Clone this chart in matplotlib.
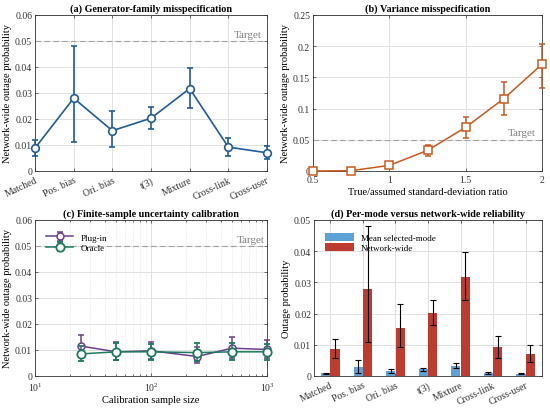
import matplotlib
matplotlib.use("Agg")
from matplotlib import pyplot as plt
from matplotlib.ticker import FuncFormatter, LogLocator, NullFormatter
import numpy as np

plt.rcParams['font.family'] = ['Liberation Serif', 'DejaVu Serif']
plt.rcParams['font.size'] = 7
plt.rcParams['mathtext.fontset'] = 'stix'

# --- data ---
cases = ['Matched', 'Pos. bias', 'Ori. bias', 't(3)', 'Mixture', 'Cross-link', 'Cross-user']
net_mean = [0.0088, 0.0280, 0.0155, 0.0203, 0.0317, 0.0092, 0.0070]
net_lo = [0.0058, 0.0110, 0.0093, 0.0163, 0.0243, 0.0058, 0.0045]
net_hi = [0.0118, 0.0482, 0.0231, 0.0245, 0.0397, 0.0128, 0.0098]

sd_ratio = [0.5, 0.75, 1.0, 1.25, 1.5, 1.75, 2.0]
var_mean = [0.0, 0.0005, 0.009, 0.033, 0.070, 0.116, 0.171]
var_lo = [0.0, 0.0003, 0.007, 0.024, 0.053, 0.090, 0.133]
var_hi = [0.0, 0.0008, 0.011, 0.042, 0.087, 0.142, 0.204]

n_cal = [25, 50, 100, 250, 500, 1000]
plug_mean = [0.0115, 0.0093, 0.0097, 0.0075, 0.0107, 0.0102]
plug_lo = [0.0075, 0.0060, 0.0065, 0.0050, 0.0070, 0.0070]
plug_hi = [0.0157, 0.0130, 0.0132, 0.0110, 0.0150, 0.0140]
orc_mean = [0.0085, 0.0093, 0.0093, 0.0090, 0.0093, 0.0093]
orc_lo = [0.0058, 0.0060, 0.0063, 0.0058, 0.0063, 0.0060]
orc_hi = [0.0115, 0.0128, 0.0125, 0.0127, 0.0127, 0.0125]

mode_mean = [0.0009, 0.0028, 0.0016, 0.0021, 0.0033, 0.0010, 0.0007]
mode_lo = [0.0007, 0.0010, 0.0010, 0.0016, 0.0026, 0.0007, 0.0005]
mode_hi = [0.0011, 0.0050, 0.0024, 0.0026, 0.0042, 0.0013, 0.0009]

target = 0.05

BLUE = '#1f5c99'
ORANGE = '#c85a1e'
PURPLE = '#6b3d8f'
GREEN = '#1d7a5c'
LBLUE = '#5ba3d6'
RED = '#bf3b30'
EDGE = '#333333'


def yerr(m, lo, hi):
    m = np.asarray(m); lo = np.asarray(lo); hi = np.asarray(hi)
    return np.vstack([m - lo, hi - m])


def no_clip(eb):
    # markers on the axes edge are drawn whole, like the reference
    line, caps, bars = eb.lines
    if line is not None:
        line.set_clip_on(False)
    for c in caps:
        c.set_clip_on(False)
    for b in bars:
        b.set_clip_on(False)


def style(ax, title):
    ax.set_title(title, fontsize=7.3, fontweight='bold', pad=3)
    ax.grid(True, color='#dcdcdc', lw=0.6)
    ax.set_axisbelow(True)
    ax.tick_params(direction='in', length=2.5, width=0.5, colors=EDGE,
                   top=True, right=True, labelsize=7, pad=2)
    ax.tick_params(axis='x', pad=3)
    for s in ax.spines.values():
        s.set_color(EDGE)
        s.set_linewidth(0.6)
    ax.yaxis.set_major_formatter(FuncFormatter(lambda v, p: '%g' % round(v, 4)))


def add_target(ax, xtext, dy):
    ax.axhline(target, color='#a0a0a0', ls=(0, (5, 3)), lw=0.8, zorder=1)
    ax.text(xtext, target + dy, 'Target', color='#808080', fontsize=8,
            ha='right', va='bottom')


fig = plt.figure(figsize=(5.5, 4.1), dpi=100)
W, H = 550.0, 410.0


def box(l, t, r, b):
    return [l / W, 1 - b / H, (r - l) / W, (b - t) / H]


# (a)
ax = fig.add_axes(box(35, 16, 267, 172))
x = np.arange(1, len(cases) + 1)
eb = ax.errorbar(x, net_mean, yerr=yerr(net_mean, net_lo, net_hi), color=BLUE, lw=1.2,
                 marker='o', ms=5.5, mfc='white', mec=BLUE, mew=1.2, capsize=2.5,
                 elinewidth=1.2, capthick=1.2, zorder=3)
no_clip(eb)
ax.set_xlim(1, 7)
ax.set_ylim(0, 0.06)
ax.set_xticks(x)
ax.set_xticklabels(cases, rotation=25, ha='right', rotation_mode='anchor')
ax.set_ylabel('Network-wide outage probability', fontsize=7.5, labelpad=2)
style(ax, '(a) Generator-family misspecification')
add_target(ax, 6.85, 0.0008)

# (b)
ax = fig.add_axes(box(313, 16, 542, 172))
eb = ax.errorbar(sd_ratio, var_mean, yerr=yerr(var_mean, var_lo, var_hi), color=ORANGE,
                 lw=1.1, marker='s', ms=5.5, mfc='white', mec=ORANGE, mew=1.1, capsize=2.5,
                 elinewidth=1.1, capthick=1.1, zorder=3)
no_clip(eb)
ax.set_xlim(0.5, 2)
ax.set_ylim(0, 0.25)
ax.set_xticks([0.5, 1, 1.5, 2])
ax.xaxis.set_major_formatter(FuncFormatter(lambda v, p: '%g' % v))
ax.set_xlabel('True/assumed standard-deviation ratio', fontsize=7.5, labelpad=2)
ax.set_ylabel('Network-wide outage probability', fontsize=7.5, labelpad=2)
style(ax, '(b) Variance misspecification')
add_target(ax, 1.96, 0.004)

# (c)
ax = fig.add_axes(box(35, 221, 267, 377))
ax.set_xscale('log')
eb = ax.errorbar(n_cal, plug_mean, yerr=yerr(plug_mean, plug_lo, plug_hi), color=PURPLE,
                 lw=1.1, marker='o', ms=5, mfc='white', mec=PURPLE, mew=1.1, capsize=2.5,
                 elinewidth=1.1, capthick=1.1, zorder=3, label='Plug-in')
no_clip(eb)
eb = ax.errorbar(n_cal, orc_mean, yerr=yerr(orc_mean, orc_lo, orc_hi), color=GREEN,
                 lw=1.1, marker='o', ms=6, mfc='white', mec=GREEN, mew=1.3, capsize=2.5,
                 elinewidth=1.1, capthick=1.1, zorder=4, label='Oracle')
no_clip(eb)
ax.set_xlim(10, 1000)
ax.set_ylim(0, 0.06)
ax.xaxis.set_major_locator(LogLocator(base=10))
ax.xaxis.set_minor_locator(LogLocator(base=10, subs=np.arange(2, 10)))
ax.xaxis.set_minor_formatter(NullFormatter())
ax.set_xlabel('Calibration sample size', fontsize=7.5, labelpad=2)
ax.set_ylabel('Network-wide outage probability', fontsize=7.5, labelpad=2)
style(ax, '(c) Finite-sample uncertainty calibration')
ax.grid(True, which='minor', axis='x', color='#dcdcdc', lw=0.5, ls=':')
ax.tick_params(which='minor', direction='in', length=1.5, width=0.4, top=True)
add_target(ax, 950, 0.0008)
ax.legend(loc='upper left', bbox_to_anchor=(0.02, 0.955), frameon=False, fontsize=6.5,
          handlelength=3, borderaxespad=0.3, labelspacing=0.2)

# (d)
ax = fig.add_axes(box(314, 221, 542, 377))
w = 0.28
ax.bar(x - 0.145, mode_mean, w, color=LBLUE, label='Mean selected-mode', zorder=2)
ax.bar(x + 0.145, net_mean, w, color=RED, label='Network-wide', zorder=2)
ax.errorbar(x - 0.145, mode_mean, yerr=yerr(mode_mean, mode_lo, mode_hi), fmt='none',
            ecolor='black', elinewidth=0.8, capsize=2, capthick=0.8, zorder=3)
ax.errorbar(x + 0.145, net_mean, yerr=yerr(net_mean, net_lo, net_hi), fmt='none',
            ecolor='black', elinewidth=0.8, capsize=2, capthick=0.8, zorder=3)
ax.set_xlim(0.5, 7.5)
ax.set_ylim(0, 0.05)
ax.set_xticks(x)
ax.set_xticklabels(cases, rotation=25, ha='right', rotation_mode='anchor')
ax.set_ylabel('Outage probability', fontsize=7.5, labelpad=2)
style(ax, '(d) Per-mode versus network-wide reliability')
ax.legend(loc='upper left', bbox_to_anchor=(0.02, 0.955), frameon=False, fontsize=6.5,
          handlelength=3.2, handleheight=0.9, borderaxespad=0.3, labelspacing=0.1)

fig.savefig('out.png', dpi=100)
